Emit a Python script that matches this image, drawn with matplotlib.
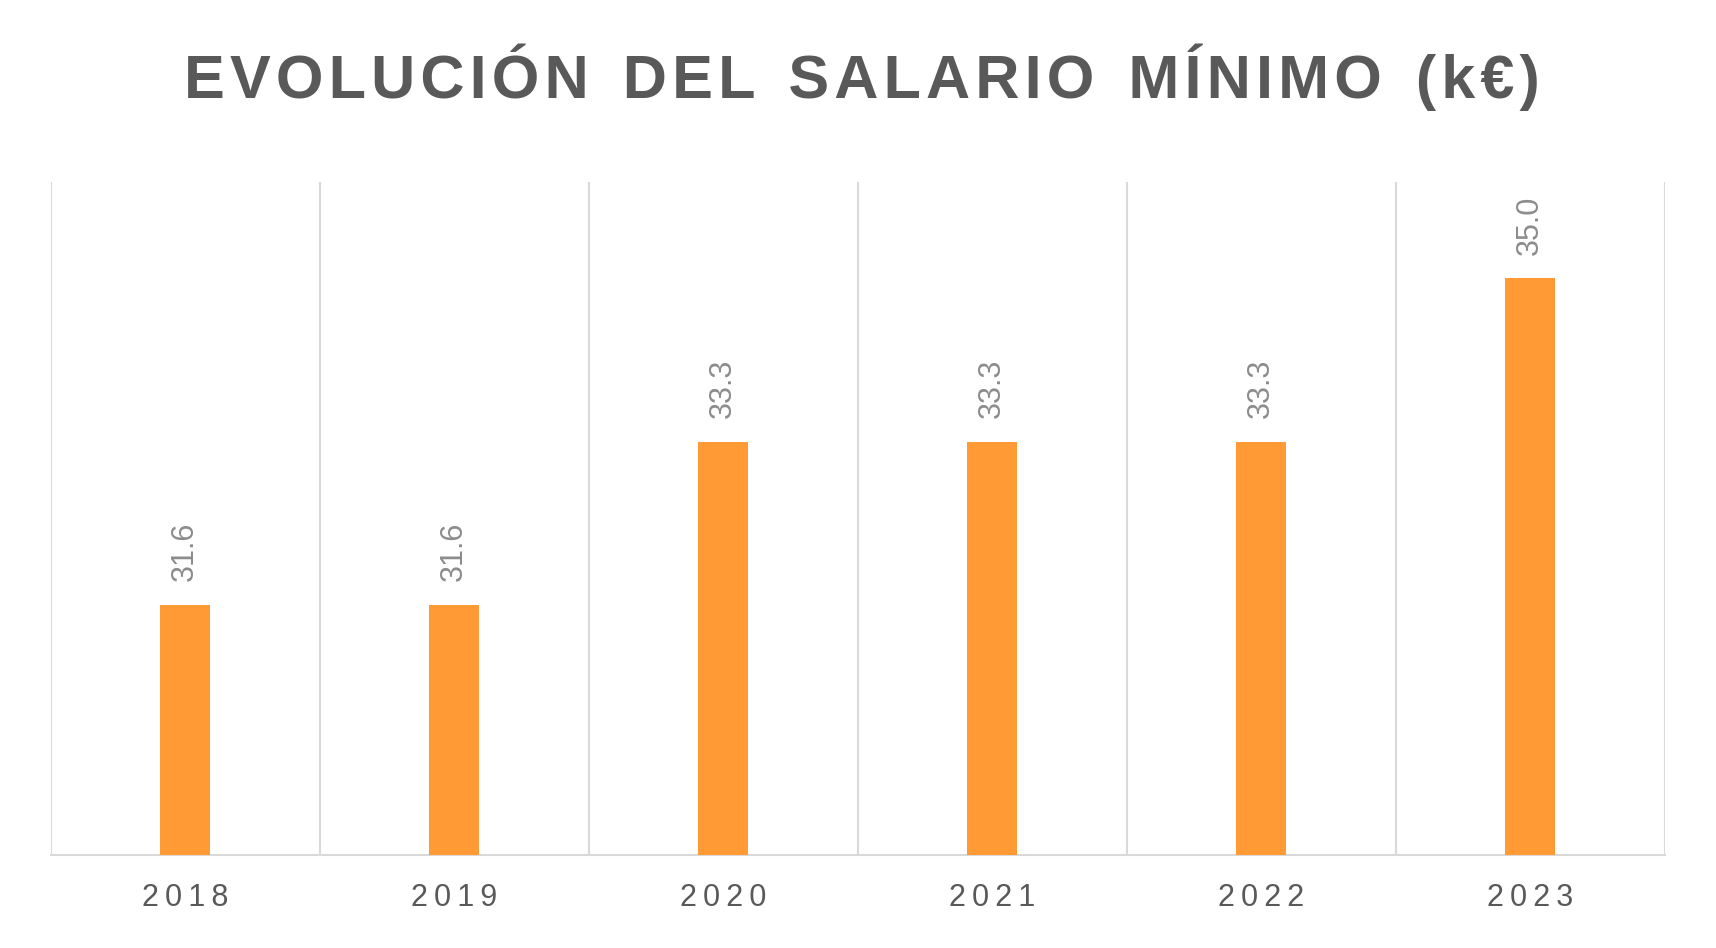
import matplotlib
matplotlib.use("Agg")
import matplotlib.pyplot as plt

years = ["2018", "2019", "2020", "2021", "2022", "2023"]
values = [31.6, 31.6, 33.3, 33.3, 33.3, 35.0]
title = "EVOLUCIÓN DEL SALARIO MÍNIMO (k€)"

fig = plt.figure(figsize=(17.16, 9.48), dpi=100)
ax = fig.add_axes([0.0295, 0.098, 0.9405, 0.71])
x = list(range(len(years)))
ax.bar(x, values, width=0.185, color="#FF9A35", zorder=3)
ax.set_ylim(29, 36)
ax.set_xlim(-0.5, len(years) - 0.5)
for b in [i - 0.5 for i in range(len(years) + 1)]:
    ax.axvline(b, color="#D9D9D9", lw=1.5, zorder=1)
for s in ["top", "left", "right"]:
    ax.spines[s].set_visible(False)
ax.spines["bottom"].set_color("#D9D9D9")
ax.spines["bottom"].set_linewidth(1.5)
ax.set_yticks([])
ax.set_xticks(x)
ax.set_xticklabels(["\u2009".join(y) for y in years], fontsize=22, color="#595959",
                   fontfamily="Liberation Sans")
ax.tick_params(axis="x", length=0, pad=20)
for xi, v in zip(x, values):
    ax.annotate(f"{v:.1f}", (xi, v), xytext=(0, 17), textcoords="offset points",
                rotation=90, ha="center", va="bottom", fontsize=22, color="#8C8C8C",
                fontfamily="Liberation Sans")
fig.text(0.502, 0.918, "\u200a".join(title).replace("\u200a \u200a", "  "),
         ha="center", va="center", fontsize=44, fontweight="bold", color="#595959",
         fontfamily="Liberation Sans")
fig.savefig("out.png", dpi=100)
